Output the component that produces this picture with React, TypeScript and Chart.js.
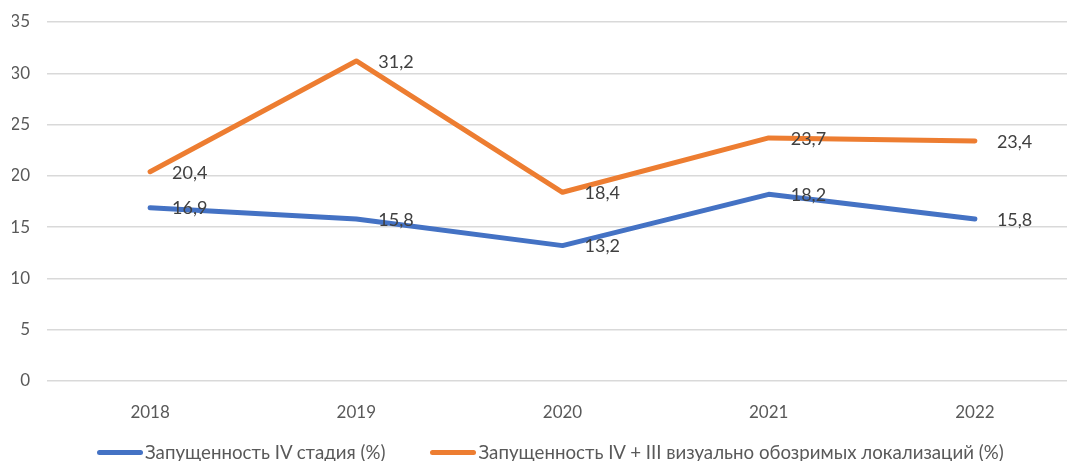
import React, { useEffect, useRef } from "react";
import { Chart, registerables } from "chart.js";

Chart.register(...registerables);

const years = ["2018", "2019", "2020", "2021", "2022"];
const stageIV = [16.9, 15.8, 13.2, 18.2, 15.8];
const stageIVplusIII = [20.4, 31.2, 18.4, 23.7, 23.4];
const seriesNames = [
  "Запущенность IV стадия (%)",
  "Запущенность IV + III визуально обозримых локализаций (%)",
];
const seriesColors = ["#4472C4", "#ED7D31"];
const yTicks = [0, 5, 10, 15, 20, 25, 30, 35];

const FONT = "Lato, 'Open Sans', sans-serif";

const labelPlugin = {
  id: "valueLabels",
  afterDatasetsDraw(chart: any) {
    const ctx = chart.ctx;
    ctx.save();
    ctx.font = `18px ${FONT}`;
    ctx.fillStyle = "#404040";
    ctx.textAlign = "left";
    ctx.textBaseline = "middle";
    chart.data.datasets.forEach((ds: any, i: number) => {
      const meta = chart.getDatasetMeta(i);
      meta.data.forEach((pt: any, j: number) => {
        const v = ds.data[j];
        ctx.fillText(String(v).replace(".", ","), pt.x + 22, pt.y + 1);
      });
    });
    ctx.restore();
  },
};

export default function App() {
  const ref = useRef<HTMLCanvasElement>(null);
  useEffect(() => {
    document.body.style.margin = "0";
    document.body.style.overflow = "hidden";
    const chart = new Chart(ref.current!, {
      type: "line",
      data: {
        labels: years,
        datasets: [stageIV, stageIVplusIII].map((d, i) => ({
          label: seriesNames[i],
          data: d,
          borderColor: seriesColors[i],
          backgroundColor: seriesColors[i],
          borderWidth: 5,
          pointRadius: 0,
          borderCapStyle: "round" as const,
          borderJoinStyle: "round" as const,
          tension: 0,
        })),
      },
      options: {
        animation: false,
        responsive: true,
        maintainAspectRatio: false,
        layout: { padding: { left: 12, right: 24, top: 22, bottom: 0 } },
        plugins: {
          tooltip: { enabled: false },
          legend: { display: false },
        },
        scales: {
          x: {
            offset: true,
            grid: { display: false },
            border: { display: false },
            ticks: {
              font: { family: FONT, size: 17 },
              color: "#595959",
              padding: 13,
            },
            afterFit(axis: any) {
              axis.height = 80;
            },
          },
          y: {
            min: 0,
            max: 35,
            afterBuildTicks(axis: any) {
              axis.ticks = yTicks.map((v) => ({ value: v }));
            },
            afterFit(axis: any) {
              axis.width = 35;
              axis.paddingTop = 0;
              axis.paddingBottom = 0;
            },
            grid: { color: "#d9d9d9", lineWidth: 1.5, drawTicks: false },
            border: { display: false },
            ticks: {
              font: { family: FONT, size: 17 },
              color: "#595959",
              padding: 17,
            },
          },
        },
      },
      plugins: [labelPlugin],
    });
    return () => chart.destroy();
  }, []);
  return (
    <div style={{ position: "absolute", left: 0, top: 0, width: 1067, height: 461, overflow: "hidden" }}>
      <div style={{ position: "relative", width: 1102, height: 461 }}>
        <canvas ref={ref} />
      </div>
      <div
        style={{
          position: "absolute",
          left: 97,
          top: 440,
          height: 24,
          display: "flex",
          alignItems: "center",
          gap: 45,
          fontFamily: FONT,
          fontSize: 18.7,
          color: "#595959",
          whiteSpace: "nowrap",
        }}
      >
        {seriesNames.map((n, i) => (
          <div key={n} style={{ display: "flex", alignItems: "center" }}>
            <div style={{ width: 46, height: 5, borderRadius: 3, background: seriesColors[i], marginRight: 2 }} />
            <span>{n}</span>
          </div>
        ))}
      </div>
    </div>
  );
}
